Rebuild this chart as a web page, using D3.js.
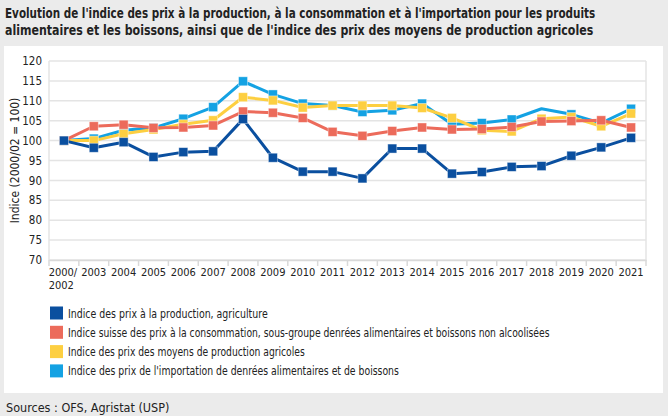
<!DOCTYPE html>
<html><head><meta charset="utf-8">
<script src="https://cdn.jsdelivr.net/npm/d3@7/dist/d3.min.js"></script>
<style>
html,body{margin:0;padding:0;background:#ebebeb;}
svg{display:block;}
text{font-family:"Liberation Sans Narrow","DejaVu Sans Condensed","Roboto Condensed",sans-serif;fill:#222;}
</style></head>
<body>
<svg id="chart" width="668" height="416"></svg>
<script>
const categories = ["2000/2002","2003","2004","2005","2006","2007","2008","2009","2010","2011","2012","2013","2014","2015","2016","2017","2018","2019","2020","2021"];
const producerPrices = [100,98.2,99.6,95.9,97.1,97.3,105.4,95.7,92.2,92.2,90.5,98.0,98.0,91.7,92.1,93.4,93.6,96.2,98.3,100.7];
const consumerPrices = [100,103.6,104.0,103.2,103.3,103.8,107.3,107.0,105.7,102.2,101.2,102.4,103.3,102.8,102.9,103.4,104.8,104.9,105.1,103.3];
const inputPrices = [100,100.0,101.7,102.8,104.1,105.1,110.9,110.1,108.3,108.8,108.8,108.8,108.2,105.7,102.6,102.3,105.5,105.9,103.6,106.8];
const importPrices = [100,100.5,102.6,103.2,105.5,108.4,114.9,111.6,109.3,108.8,107.2,107.6,109.3,104.1,104.4,105.3,108.0,106.6,104.4,108.0];
const importNoMarker = ["2018"];
const yTicks = [70,75,80,85,90,95,100,105,110,115,120];
const seriesNames = [
  "Indice des prix à la production, agriculture",
  "Indice suisse des prix à la consommation, sous-groupe denrées alimentaires et boissons non alcoolisées",
  "Indice des prix des moyens de production agricoles",
  "Indice des prix de l'importation de denrées alimentaires et de boissons"
];
const titleLines = [
  "Evolution de l'indice des prix à la production, à la consommation et à l'importation pour les produits",
  "alimentaires et les boissons, ainsi que de l'indice des prix des moyens de production agricoles"
];
const yTitle = "Indice (2000/02 = 100)";
const sourceText = "Sources : OFS, Agristat (USP)";

const colors = ["#0a4f9f","#ec6b5b","#fdcf41","#14a2e3"];
const seriesValues = [producerPrices, consumerPrices, inputPrices, importPrices];

const svg = d3.select("#chart");
svg.append("rect").attr("x",0).attr("y",0).attr("width",668).attr("height",416).attr("fill","#ebebeb");
svg.append("rect").attr("x",4).attr("y",46).attr("width",659).attr("height",347).attr("fill","#ffffff");

// helper: place text squeezed horizontally to a target width
function fitText(g, str, x0, y0, size, width, weight) {
  const holder = g.append("g");
  const t = holder.append("text").attr("x",0).attr("y",0).attr("font-size",size).text(str);
  if (weight) t.attr("font-weight", weight);
  const w = t.node().getComputedTextLength();
  const k = Math.min(1, width / w);
  holder.attr("transform", `translate(${x0},${y0}) scale(${k},1)`);
  return t;
}

// title
const tt = svg.append("g");
const titleWidths = [591, 589];
titleLines.forEach((t,i)=> fitText(tt, t, 5, 18 + i*17, 14, titleWidths[i], "bold"));

const x = d3.scaleBand().domain(categories).range([49,646]);
const y = d3.scaleLinear().domain([70,120]).range([260,61]);

// grid
svg.append("g").selectAll("line").data(yTicks).join("line")
  .attr("x1",49).attr("x2",646).attr("y1",d=>y(d)).attr("y2",d=>y(d))
  .attr("stroke","#e4e4e4").attr("stroke-width",1.5);
svg.append("line").attr("x1",49).attr("x2",49).attr("y1",y(120)).attr("y2",y(70)).attr("stroke","#e4e4e4").attr("stroke-width",1.5);
svg.append("line").attr("x1",646).attr("x2",646).attr("y1",y(120)).attr("y2",y(70)).attr("stroke","#e4e4e4").attr("stroke-width",1.5);

// y axis
const yAxis = svg.append("g").attr("transform","translate(42,0)")
  .call(d3.axisLeft(y).tickValues(yTicks).tickSize(0).tickPadding(0));
yAxis.select(".domain").remove();
yAxis.attr("font-family",null).attr("font-size",null);
yAxis.selectAll("text").attr("font-size",11.5).attr("fill","#222");

// x axis
const xAxis = svg.append("g").attr("transform",`translate(0,${y(70)})`)
  .call(d3.axisBottom(x).tickSize(0).tickFormat(""));
xAxis.select(".domain").attr("stroke","#d9d9d9").attr("stroke-width",1.5);
xAxis.attr("font-family",null).attr("font-size",null);
const bounds = categories.map(c=>x(c)).concat([x.range()[1]]);
xAxis.append("g").selectAll("line").data(bounds).join("line")
  .attr("x1",d=>d).attr("x2",d=>d).attr("y1",0).attr("y2",6)
  .attr("stroke","#d9d9d9").attr("stroke-width",1.5);
const xl = xAxis.append("g").selectAll("text").data(categories).join("text")
  .attr("font-size",11).attr("y",16);
xl.each(function(d){
  const t = d3.select(this);
  const cx = x(d) + x.bandwidth()/2;
  if (d.includes("/")) {
    const parts = d.split("/");
    t.attr("text-anchor","start");
    const a = t.append("tspan").text(parts[0]+"/");
    const w = a.node().getComputedTextLength();
    a.attr("x", cx - w/2 - 1);
    t.append("tspan").attr("x", cx - w/2 - 1).attr("dy",13).text(parts[1]);
  } else {
    t.attr("text-anchor","middle").attr("x",cx).text(d);
  }
});

// y title
svg.append("text").attr("transform",`translate(19,${y(95)}) rotate(-90)`)
  .attr("text-anchor","middle").attr("font-size",12).text(yTitle);

// series: draw in reverse order so first legend item is on top
const line = d3.line().x((d,i)=>x(categories[i])+x.bandwidth()/2).y(d=>y(d));
const order = [3,2,1,0];
order.forEach(s=>{
  const g = svg.append("g");
  g.append("path").datum(seriesValues[s]).attr("d",line).attr("fill","none")
    .attr("stroke",colors[s]).attr("stroke-width",3).attr("stroke-linejoin","round");
  const pts = seriesValues[s].map((v,i)=>({v, c:categories[i]}))
    .filter(p=> !(s===3 && importNoMarker.includes(p.c)));
  g.selectAll("rect").data(pts).join("rect")
    .attr("x",p=>x(p.c)+x.bandwidth()/2-4.5).attr("y",p=>y(p.v)-4.5)
    .attr("width",9).attr("height",9).attr("fill",colors[s])
    .attr("stroke","#ffffff").attr("stroke-opacity",0.5).attr("stroke-width",0.8);
});

// legend
const legendWidths = [200, 482, 237, 331];
const lg = svg.append("g");
seriesNames.forEach((n,i)=>{
  const yy = 313 + i*19.3;
  lg.append("rect").attr("x",50).attr("y",yy-6.5).attr("width",13).attr("height",13).attr("fill",colors[i]);
  fitText(lg, n, 68, yy+4.5, 12.5, legendWidths[i]);
});

svg.append("text").attr("x",6).attr("y",412).attr("font-size",12.5).text(sourceText);
</script>
</body></html>
